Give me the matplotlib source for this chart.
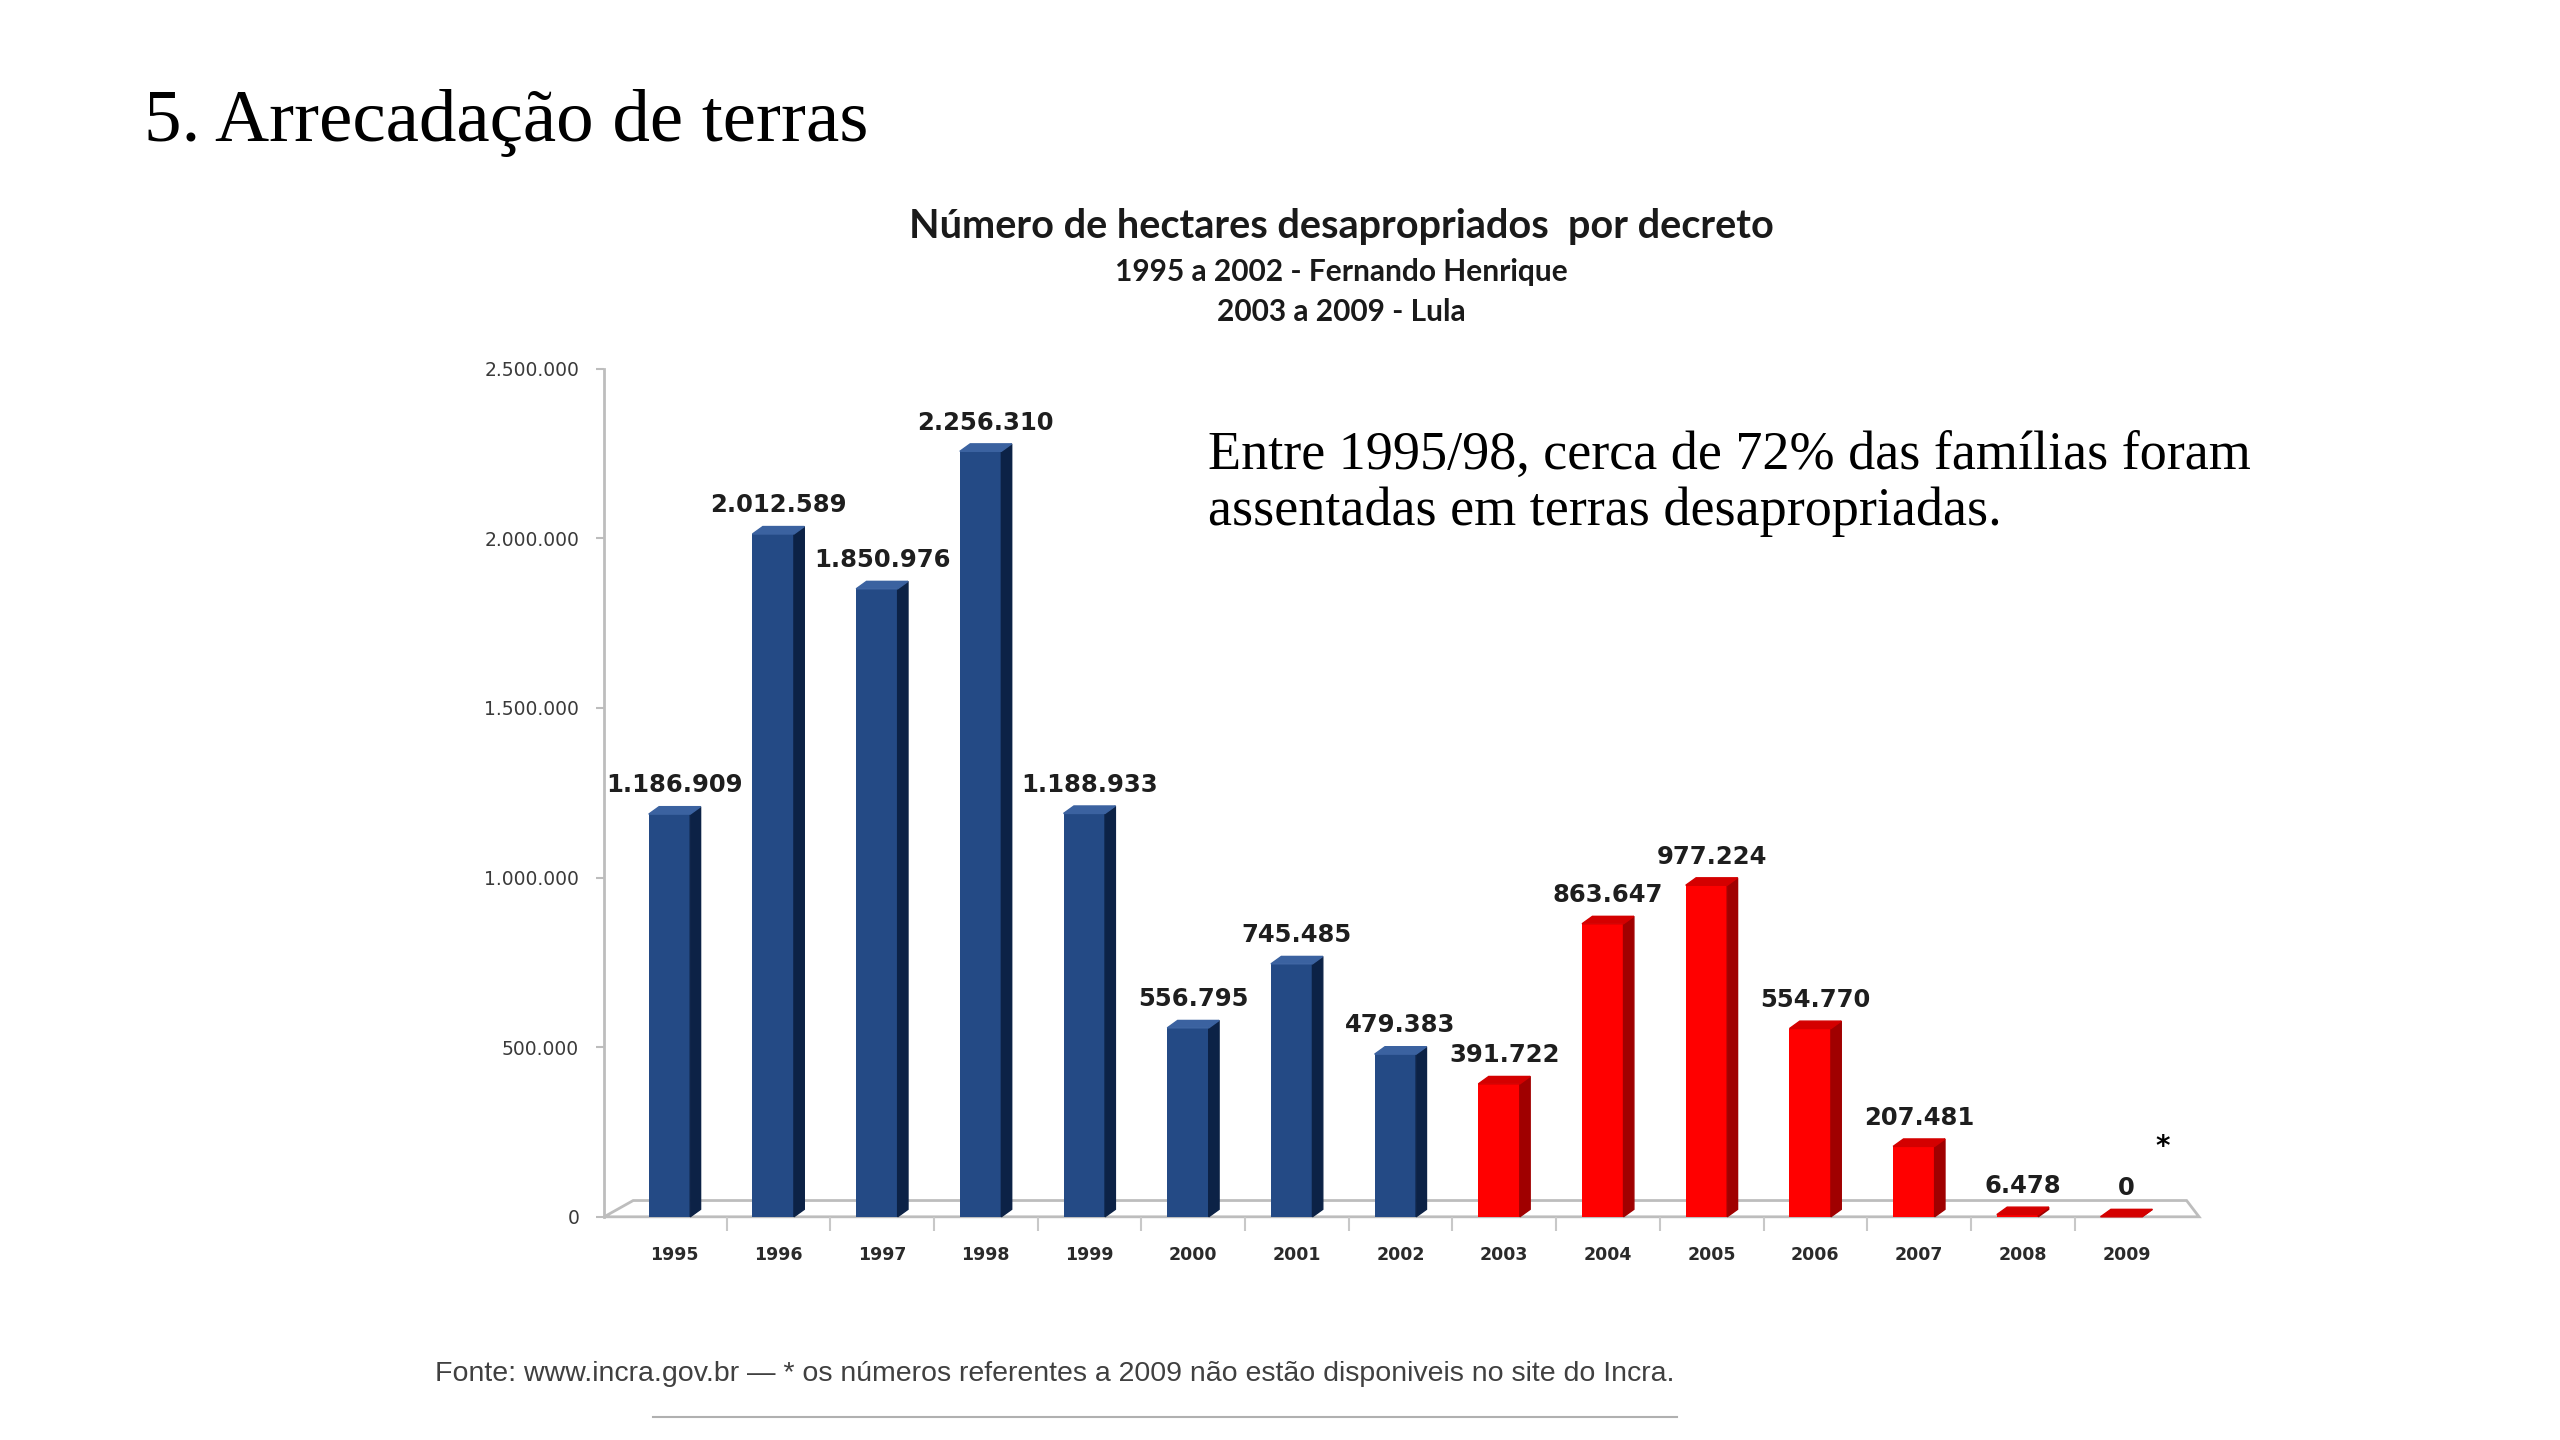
import numpy as np
import matplotlib.pyplot as plt
from matplotlib.lines import Line2D

# dados (hectares desapropriados por decreto)
anos = ['1995', '1996', '1997', '1998', '1999', '2000', '2001', '2002',
        '2003', '2004', '2005', '2006', '2007', '2008', '2009']
hectares = [1186909, 2012589, 1850976, 2256310, 1188933, 556795, 745485, 479383,
            391722, 863647, 977224, 554770, 207481, 6478, 0]
governo = ['FHC'] * 8 + ['Lula'] * 7
y_ticks = [0, 500000, 1000000, 1500000, 2000000, 2500000]
y_tick_labels = ['0', '500.000', '1.000.000', '1.500.000', '2.000.000', '2.500.000']

cor_frente = {'FHC': '#244a85', 'Lula': '#ff0000'}
cor_lado = {'FHC': '#0c2246', 'Lula': '#a00000'}
cor_topo = {'FHC': '#3b62a0', 'Lula': '#d40000'}

fig = plt.figure(figsize=(25.6, 14.4), dpi=100)
fig.patch.set_facecolor('white')

# titulo do slide
fig.text(0.0561, 0.902, '5. Arrecadação de terras', family='Liberation Serif',
         fontsize=54, color='black', ha='left', va='baseline')

ax = fig.add_axes([0.236, 0.155, 0.623, 0.589])
x = np.arange(len(anos))

w_frente = 0.40
w_lado = 0.10
dy = 22000

# chao em perspectiva
ax.fill([-0.68, -0.40, 14.58, 14.70], [0, 48000, 48000, 0], facecolor='white',
        edgecolor='#bdbdbd', lw=2, clip_on=False, zorder=1)

for i, v in enumerate(hectares):
    g = governo[i]
    x0 = x[i] - 0.25
    x1 = x0 + w_frente
    ax.bar(x0, v, width=w_frente, align='edge', color=cor_frente[g], zorder=3)
    ax.fill([x1, x1 + w_lado, x1 + w_lado, x1], [0, dy, v + dy, v],
            color=cor_lado[g], zorder=3, clip_on=False)
    ax.fill([x0, x0 + w_lado, x1 + w_lado, x1], [v, v + dy, v + dy, v],
            color=cor_topo[g], zorder=3, clip_on=False)
    rot = f'{v:,}'.replace(',', '.')
    ax.annotate(rot, (x[i], v), xytext=(0, 12), textcoords='offset points',
                ha='center', va='bottom', fontsize=17.5, fontweight='bold',
                color='#1e1e1e', zorder=4)

# asterisco de 2009
ax.annotate('*', (x[-1], hectares[-1]), xytext=(26, 50), textcoords='offset points',
            ha='center', va='center', fontsize=20, fontweight='bold', color='black')

ax.set_xlim(-0.68, 14.70)
ax.set_ylim(0, 2500000)

ax.set_yticks(y_ticks)
ax.set_yticklabels(y_tick_labels)
ax.set_xticks(x)
ax.set_xticklabels(anos)
ax.set_xticks(x[:-1] + 0.5, minor=True)

ax.tick_params(axis='y', labelsize=13.5, colors='#bdbdbd', labelcolor='#3a3a3a',
               length=6, width=1.5, pad=12)
ax.tick_params(axis='x', which='major', length=0, labelsize=12.5, labelcolor='#2a2a2a', pad=21)
ax.tick_params(axis='x', which='minor', length=10, width=1.5, colors='#c8c8c8')
for lb in ax.get_xticklabels():
    lb.set_fontweight('bold')

for s in ['top', 'right', 'bottom']:
    ax.spines[s].set_visible(False)
ax.spines['left'].set_color('#bdbdbd')
ax.spines['left'].set_linewidth(2)
ax.set_facecolor('white')

# titulos do grafico
fig.text(0.524, 0.843, 'Número de hectares desapropriados  por decreto', family='Lato',
         fontweight='bold', fontsize=28.5, color='#1a1a1a', ha='center', va='center')
fig.text(0.524, 0.811, '1995 a 2002 - Fernando Henrique', family='Lato',
         fontweight='bold', fontsize=21.5, color='#1a1a1a', ha='center', va='center')
fig.text(0.524, 0.783, '2003 a 2009 - Lula', family='Lato',
         fontweight='bold', fontsize=21.5, color='#1a1a1a', ha='center', va='center')

# comentario
fig.text(0.472, 0.701, 'Entre 1995/98, cerca de 72% das famílias foram\nassentadas em terras desapropriadas.',
         family='Liberation Serif', fontsize=39, color='black', ha='left', va='top',
         linespacing=1.13)

# fonte
fig.text(0.170, 0.046, 'Fonte: www.incra.gov.br — * os números referentes a 2009 não estão disponiveis no site do Incra.',
         family='Liberation Sans', fontsize=20.5, color='#404040', ha='left', va='center')
fig.add_artist(Line2D([0.255, 0.655], [0.016, 0.016], transform=fig.transFigure,
                      color='#b0b0b0', lw=1.5))

fig.savefig('out.png', dpi=100, facecolor='white')
